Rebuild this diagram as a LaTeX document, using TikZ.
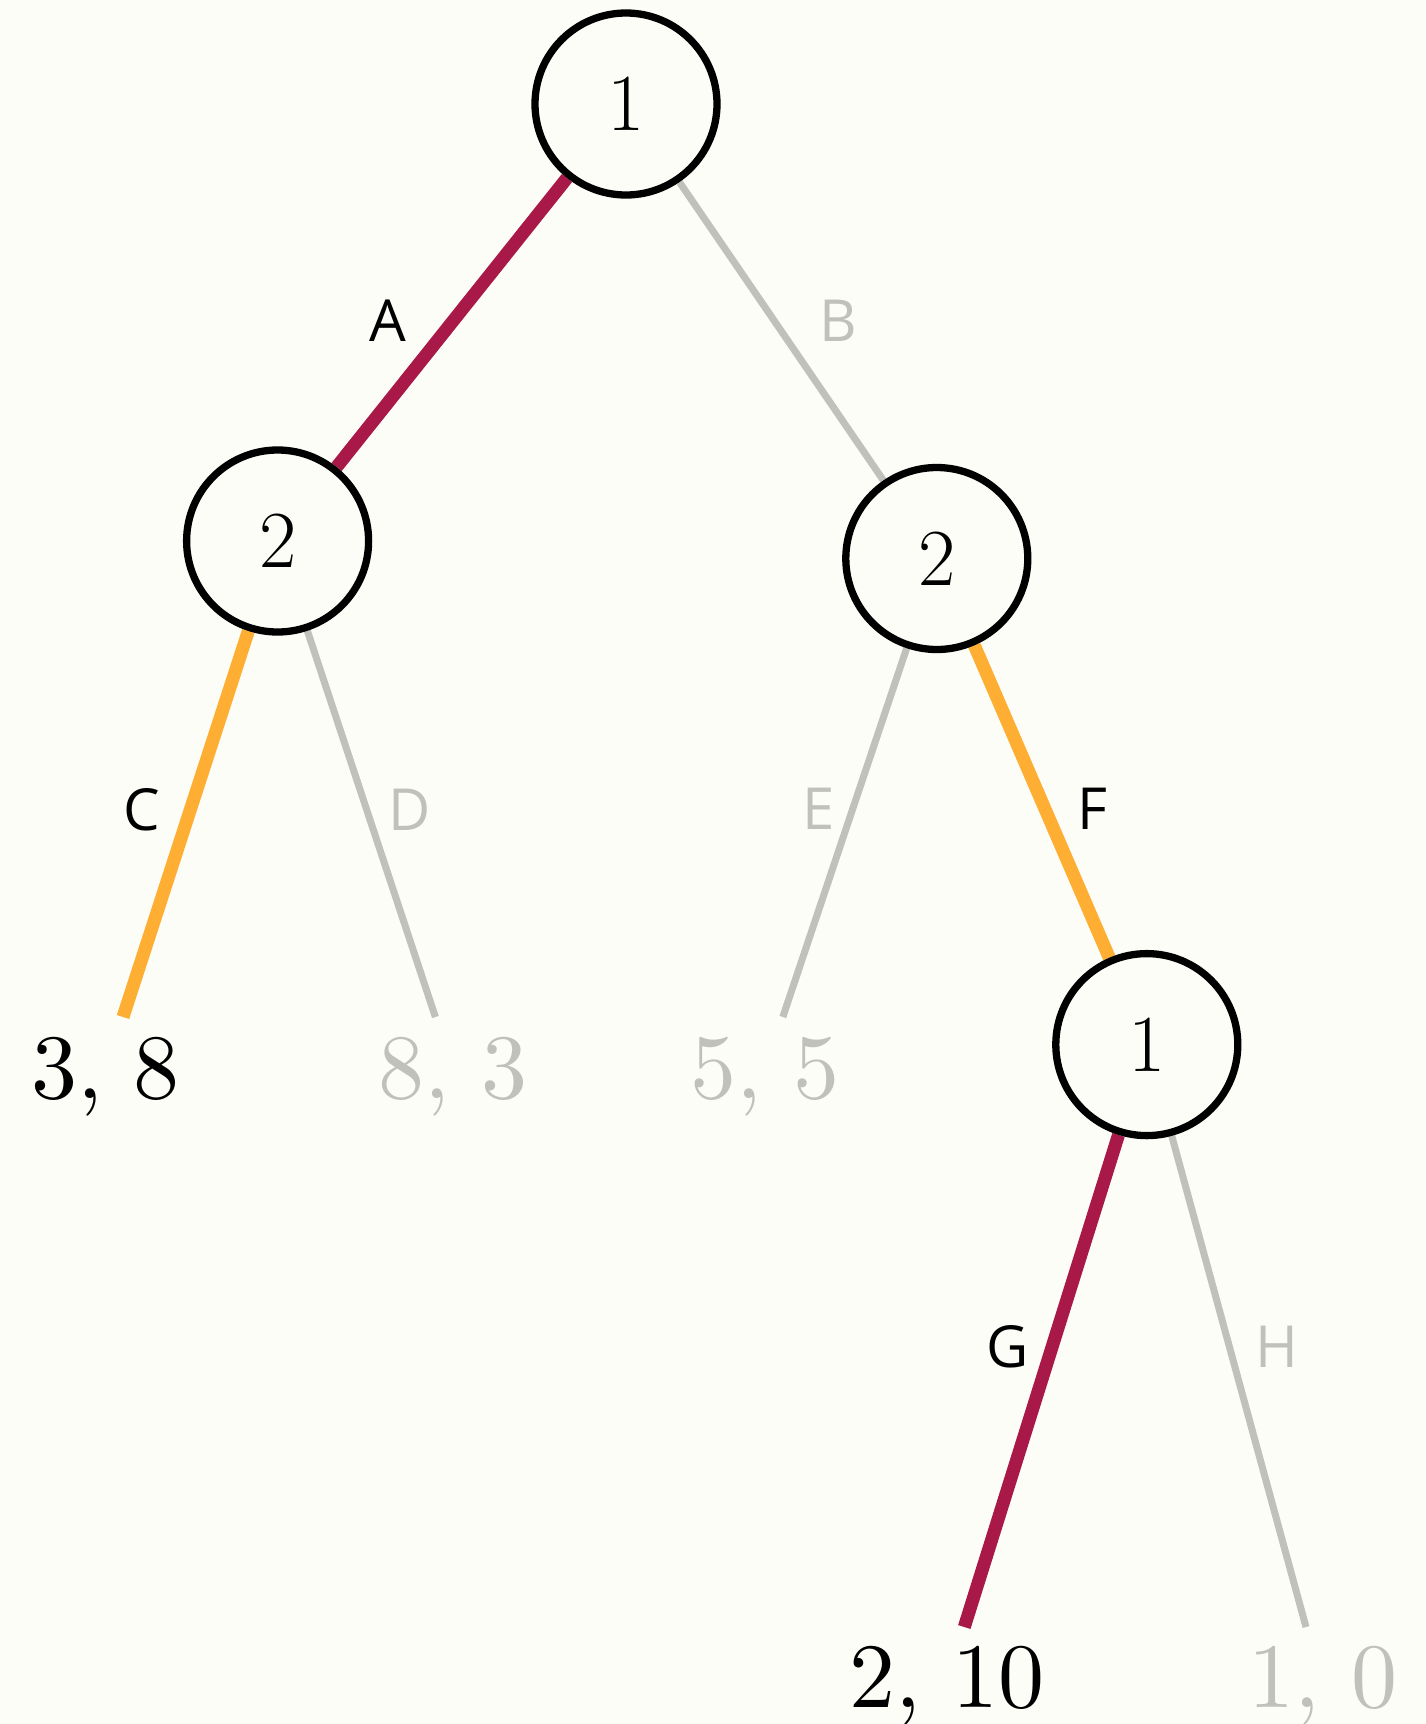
\documentclass[tikz,border=0pt]{standalone}
\usepackage{fontspec}
\setsansfont{Open Sans}
\newfontfamily\lmten{lmroman10-regular.otf}
\usetikzlibrary{positioning, backgrounds}
\definecolor{bgcream}{HTML}{FDFDF7}
\definecolor{pathred}{HTML}{A8194A}
\definecolor{pathorange}{HTML}{FFAE34}
\definecolor{prunegray}{HTML}{C0C1BA}
\tikzset{
  decnode/.style={circle, draw=black, line width=7.3pt, fill=bgcream,
    minimum size=182pt, inner sep=0pt, font=\fontsize{81}{90}\selectfont},
  edgelabel/.style={font=\sffamily\fontsize{58}{60}\selectfont, inner sep=0pt},
  payoff/.style={font=\lmten\fontsize{92}{100}\selectfont, anchor=base, inner sep=0pt},
  rededge/.style={line width=13pt, color=pathred},
  orangeedge/.style={line width=13pt, color=pathorange},
  grayedge/.style={line width=7pt, color=prunegray},
}
\begin{document}
\begin{tikzpicture}[x=1pt, y=-1pt]
  \useasboundingbox (0,0) rectangle (1425,1724);

  % decision nodes
  \node[decnode] (root) at (626,104) {1};
  \node[decnode] (lft)  at (277.6,541) {2};
  \node[decnode] (rgt)  at (936.8,558.5) {2};
  \node[decnode] (rgtb) at (1146.8,1044.6) {1};

  % free ends of the leaf edges
  \coordinate (endC) at (123,1017);
  \coordinate (endD) at (435.4,1017);
  \coordinate (endE) at (782.8,1017);
  \coordinate (endG) at (964.3,1627);
  \coordinate (endH) at (1306,1627);

  % payoffs
  \node[payoff] (payC) at (105.5,1098) {3, 8};
  \node[payoff, prunegray] (payD) at (453,1098) {8, 3};
  \node[payoff, prunegray] (payE) at (765,1098) {5, 5};
  \node[payoff] (payG) at (947,1707) {2, 10};
  \node[payoff, prunegray] (payH) at (1323,1707) {1, 0};

  % action labels
  \node[edgelabel] (labA) at (388,321) {A};
  \node[edgelabel, prunegray] (labB) at (838,321) {B};
  \node[edgelabel] (labC) at (142,810) {C};
  \node[edgelabel, prunegray] (labD) at (410,810) {D};
  \node[edgelabel, prunegray] (labE) at (819,809) {E};
  \node[edgelabel] (labF) at (1092,809) {F};
  \node[edgelabel] (labG) at (1008,1347) {G};
  \node[edgelabel, prunegray] (labH) at (1277,1347) {H};

  \begin{pgfonlayer}{background}
    \fill[bgcream] (0,0) rectangle (1425,1724);
    \draw[rededge]    (root) -- (lft);
    \draw[grayedge]   (root) -- (rgt);
    \draw[orangeedge] (lft)  -- (endC);
    \draw[grayedge]   (lft)  -- (endD);
    \draw[grayedge]   (rgt)  -- (endE);
    \draw[orangeedge] (rgt)  -- (rgtb);
    \draw[rededge]    (rgtb) -- (endG);
    \draw[grayedge]   (rgtb) -- (endH);
  \end{pgfonlayer}
\end{tikzpicture}
\end{document}
